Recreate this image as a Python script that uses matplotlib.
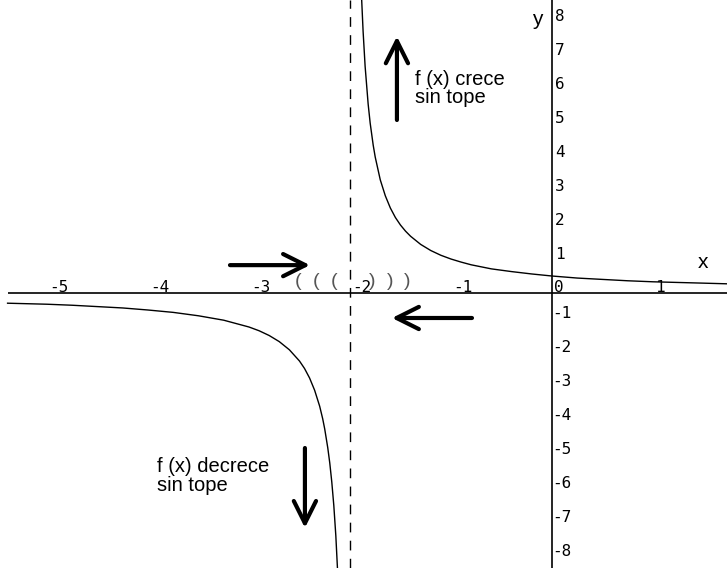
import matplotlib.pyplot as plt

# --------------------------------------------------------
# Values
# --------------------------------------------------------
upper_x = [-1.884, -1.87, -1.85, -1.82, -1.8, -1.77, -1.75, -1.7, -1.65, -1.6, -1.55, -1.5,
           -1.45, -1.4, -1.3, -1.2, -1.1, -1.0, -0.9, -0.8, -0.6, -0.4, -0.2, 0.0,
           0.25, 0.5, 0.75, 1.0, 1.5, 1.74]
upper_y = [8.62, 7.7, 6.67, 5.56, 5.0, 4.35, 4.0, 3.33, 2.86, 2.5, 2.22, 2.0,
           1.82, 1.67, 1.43, 1.25, 1.11, 1.0, 0.91, 0.83, 0.71, 0.63, 0.56, 0.5,
           0.44, 0.4, 0.36, 0.33, 0.29, 0.27]

lower_x = [-5.39, -5.0, -4.75, -4.5, -4.25, -4.0, -3.75, -3.5, -3.25, -3.0, -2.9,
           -2.8, -2.7, -2.6, -2.5, -2.45, -2.4, -2.35, -2.3, -2.27, -2.25, -2.22,
           -2.2, -2.18, -2.16, -2.14, -2.124]
lower_y = [-0.30, -0.33, -0.36, -0.4, -0.44, -0.5, -0.57, -0.67, -0.8, -1.0, -1.11,
           -1.25, -1.43, -1.67, -2.0, -2.22, -2.5, -2.86, -3.33, -3.7, -4.0, -4.55,
           -5.0, -5.56, -6.25, -7.14, -8.09]

asymptote = -2
x_ticks = [-5, -4, -3, -2, -1, 0, 1]
y_ticks_pos = [1, 2, 3, 4, 5, 6, 7, 8]
y_ticks_neg = [-1, -2, -3, -4, -5, -6, -7, -8]

# --------------------------------------------------------
# Figure
# --------------------------------------------------------
fig = plt.figure(figsize=(7.27, 5.68), dpi=100)
ax = fig.add_axes([0, 0, 1, 1])
ax.set_xlim(-5.465, 1.733)
ax.set_ylim(-8.09, 8.62)
ax.axis('off')

# axes
ax.hlines(0, -5.39, 1.733, color='black', lw=1.2)
ax.axvline(0, color='black', lw=1.2)

# asymptote
ax.axvline(asymptote, color='black', lw=1.0, dashes=(7, 6))

# curve
ax.plot(upper_x, upper_y, color='black', lw=1.0)
ax.plot(lower_x, lower_y, color='black', lw=1.0)

# tick labels (placed the way the original program draws them)
mono = 'DejaVu Sans Mono'
for k in x_ticks:
    ax.text(k + 0.02, 0.04, str(k), family=mono, fontsize=11.5,
            ha='left', va='baseline')
for k in y_ticks_pos:
    ax.text(0.03, k + 0.12, str(k), family=mono, fontsize=11.5,
            ha='left', va='center')
for k in y_ticks_neg:
    ax.text(0.0, k + 0.4, str(k), family=mono, fontsize=11.5,
            ha='left', va='center')

# axis names
sans = 'Liberation Sans'
ax.text(1.446, 0.735, 'x', family=sans, fontsize=15, ha='left', va='baseline')
ax.text(-0.198, 7.88, 'y', family=sans, fontsize=15, ha='left', va='baseline')

# notes
ax.text(-1.356, 6.12, 'f (x) crece', family=sans, fontsize=14.5, va='baseline')
ax.text(-1.356, 5.59, 'sin tope', family=sans, fontsize=14.5, va='baseline')
ax.text(-3.91, -5.26, 'f (x) decrece', family=sans, fontsize=14.5, va='baseline')
ax.text(-3.91, -5.82, 'sin tope', family=sans, fontsize=14.5, va='baseline')

# arrows
arrow = dict(arrowstyle='->, head_length=0.8, head_width=0.4',
             lw=3, color='black', mutation_scale=20, shrinkA=0, shrinkB=0)
ax.annotate('', xy=(-1.535, 7.55), xytext=(-1.535, 5.09), arrowprops=arrow)
ax.annotate('', xy=(-2.446, -6.91), xytext=(-2.446, -4.56), arrowprops=arrow)
ax.annotate('', xy=(-2.396, 0.82), xytext=(-3.188, 0.82), arrowprops=arrow)
ax.annotate('', xy=(-1.584, -0.735), xytext=(-0.792, -0.735), arrowprops=arrow)

# parentheses around x = -2
for px in [-2.51, -2.34, -2.16]:
    ax.text(px, 0.34, '(', family=sans, fontsize=14, color='#555555',
            ha='center', va='center')
for px in [-1.78, -1.60, -1.43]:
    ax.text(px, 0.34, ')', family=sans, fontsize=14, color='#555555',
            ha='center', va='center')

fig.savefig('out.png', dpi=100)
